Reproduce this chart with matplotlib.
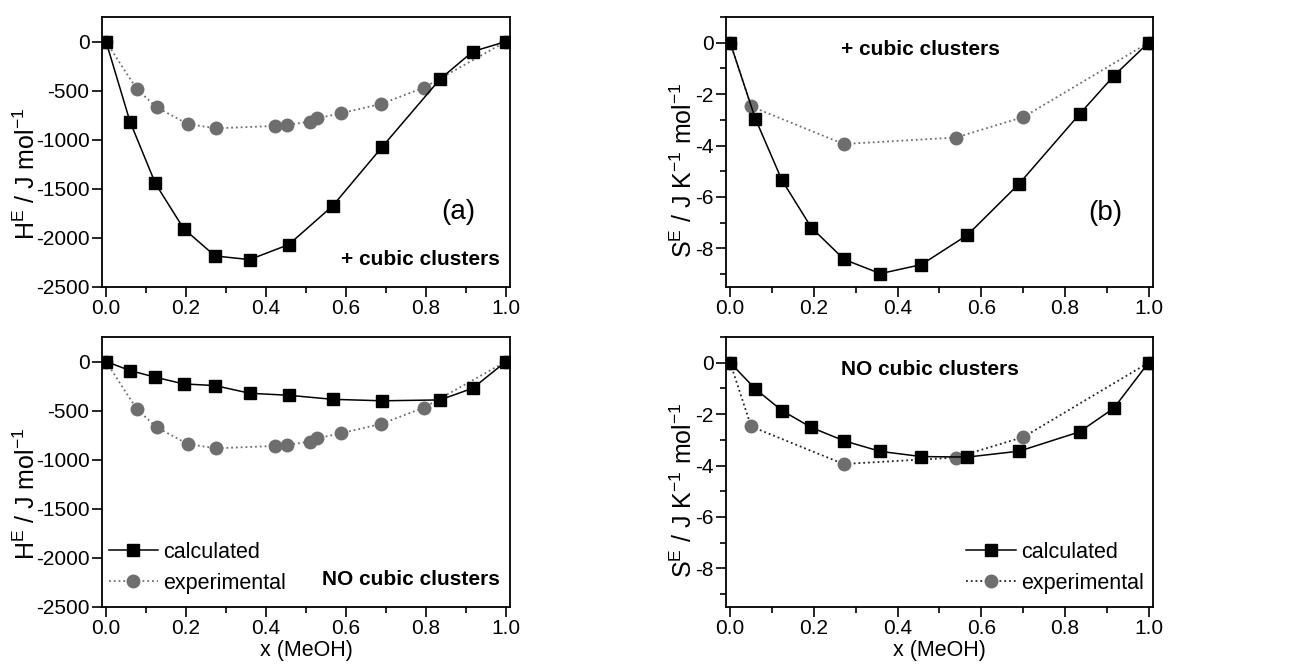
import matplotlib
matplotlib.use("Agg")
import matplotlib.pyplot as plt
from matplotlib.ticker import MultipleLocator

# ---- data ----
x_calc = [0.0, 0.06, 0.1235, 0.194, 0.2725, 0.359, 0.457, 0.567, 0.691, 0.835, 0.917, 1.0]

# enthalpy, J/mol
hE_calc_cubic = [0, -816, -1446, -1905, -2184, -2221, -2068, -1673, -1071, -384, -102, 0]
hE_calc_nocubic = [0, -92, -160, -228, -245, -323, -344, -385, -400, -391, -272, 0]
x_exp_h = [0.0, 0.077, 0.127, 0.204, 0.274, 0.423, 0.452, 0.51, 0.528, 0.587, 0.6875, 0.795, 1.0]
hE_exp = [0, -486, -670, -840, -884, -860, -850, -816, -782, -731, -636, -469, 0]

# entropy, J/(K mol)
sE_calc_cubic = [0, -2.95, -5.34, -7.19, -8.43, -8.98, -8.63, -7.48, -5.48, -2.78, -1.29, 0]
sE_calc_nocubic = [0, -1.02, -1.86, -2.52, -3.04, -3.45, -3.65, -3.67, -3.44, -2.69, -1.77, 0]
x_exp_s = [0.0, 0.05, 0.271, 0.539, 0.701, 1.0]
sE_exp = [0, -2.48, -3.94, -3.69, -2.89, 0]

plt.rcParams["font.family"] = ["Liberation Sans", "DejaVu Sans"]
plt.rcParams["axes.unicode_minus"] = False
plt.rcParams["mathtext.fontset"] = "custom"
plt.rcParams["mathtext.rm"] = "Liberation Sans"
plt.rcParams["mathtext.it"] = "Liberation Sans"

GREY = "#6e6e6e"
FS = 15  # tick label size

fig = plt.figure(figsize=(12.93, 6.71), dpi=100)

left_l, w_l = 0.0789, 0.3155
left_r, w_r = 0.5615, 0.330
bot_top, bot_bot, h = 0.5723, 0.0954, 0.4024

ax_a = fig.add_axes([left_l, bot_top, w_l, h])
ax_b = fig.add_axes([left_r, bot_top, w_r, h])
ax_c = fig.add_axes([left_l, bot_bot, w_l, h])
ax_d = fig.add_axes([left_r, bot_bot, w_r, h])

def style(ax, kind):
    ax.set_xlim(-0.01, 1.01)
    ax.xaxis.set_major_locator(MultipleLocator(0.2))
    ax.xaxis.set_minor_locator(MultipleLocator(0.1))
    ax.xaxis.set_major_formatter(matplotlib.ticker.FormatStrFormatter("%.1f"))
    if kind == "h":
        ax.set_ylim(-2500, 250)
        ax.yaxis.set_major_locator(MultipleLocator(500))
        ax.set_ylabel(r"H$^\mathrm{E}$ / J mol$^{-1}$", fontsize=18)
        ax.yaxis.set_label_coords(-0.152, 0.42)
    else:
        ax.set_ylim(-9.5, 1.0)
        ax.yaxis.set_major_locator(MultipleLocator(2))
        ax.yaxis.set_minor_locator(MultipleLocator(1))
        ax.set_ylabel(r"S$^\mathrm{E}$ / J K$^{-1}$ mol$^{-1}$", fontsize=18)
        ax.yaxis.set_label_coords(-0.068, 0.433)
    ax.tick_params(which="major", direction="out", length=7, width=1.2, labelsize=FS, pad=2)
    ax.tick_params(which="minor", direction="out", length=4, width=1.2)
    for sp in ax.spines.values():
        sp.set_linewidth(1.3)

def plot_pair(ax, x_c, y_c, x_e, y_e, exp_line_color):
    ax.plot(x_e, y_e, linestyle=":", color=exp_line_color, lw=1.3, marker="o",
            ms=9, mfc=GREY, mec=GREY, label="experimental", zorder=2)
    ax.plot(x_c, y_c, linestyle="-", color="black", lw=1.1, marker="s",
            ms=8.5, mfc="black", mec="black", label="calculated", zorder=3)

def add_legend(ax, loc, anchor):
    hnd, lab = ax.get_legend_handles_labels()
    ax.legend(hnd[::-1], lab[::-1], loc=loc, bbox_to_anchor=anchor, frameon=False,
              fontsize=15.5, handlelength=2.3, handletextpad=0.25, labelspacing=0.45,
              borderaxespad=0.2, borderpad=0.2)

# (a)
plot_pair(ax_a, x_calc, hE_calc_cubic, x_exp_h, hE_exp, GREY)
style(ax_a, "h")
ax_a.text(0.88, -1735, "(a)", fontsize=20, ha="center", va="center")
ax_a.text(0.985, -2224, "+ cubic clusters", fontsize=15, fontweight="bold", ha="right", va="center")

# (b)
plot_pair(ax_b, x_calc, sE_calc_cubic, x_exp_s, sE_exp, GREY)
style(ax_b, "s")
ax_b.text(0.897, -6.63, "(b)", fontsize=20, ha="center", va="center")
ax_b.text(0.455, -0.27, "+ cubic clusters", fontsize=15, fontweight="bold", ha="center", va="center")

# (c)
plot_pair(ax_c, x_calc, hE_calc_nocubic, x_exp_h, hE_exp, GREY)
style(ax_c, "h")
ax_c.set_xlabel("x (MeOH)", fontsize=FS + 0.5, labelpad=1)
ax_c.text(0.985, -2224, "NO cubic clusters", fontsize=15, fontweight="bold", ha="right", va="center")
add_legend(ax_c, "lower left", (-0.005, 0.018))

# (d)
plot_pair(ax_d, x_calc, sE_calc_nocubic, x_exp_s, sE_exp, "#222222")
style(ax_d, "s")
ax_d.set_xlabel("x (MeOH)", fontsize=FS + 0.5, labelpad=1)
ax_d.text(0.478, -0.27, "NO cubic clusters", fontsize=15, fontweight="bold", ha="center", va="center")
add_legend(ax_d, "lower right", (1.0, 0.018))

fig.savefig("out.png", dpi=100)
